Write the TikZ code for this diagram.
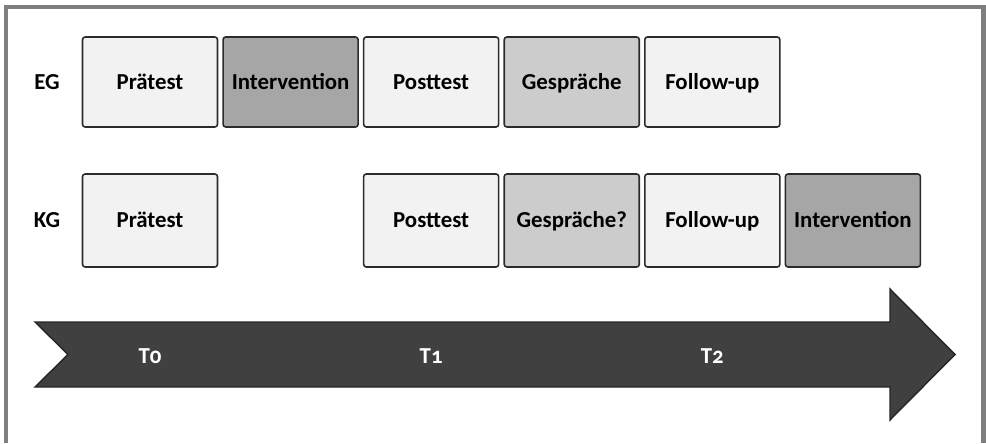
\documentclass[tikz,border=0pt]{standalone}
\usepackage{fontspec}
\setmainfont{Carlito}
\newfontfamily\timeFont[Numbers=OldStyle]{Carlito}
\usepackage{xcolor}
\definecolor{studyFrame}{HTML}{7F7F7F}
\definecolor{studyLine}{HTML}{2B2B2B}
\definecolor{studyLight}{HTML}{F2F2F2}
\definecolor{studyMid}{HTML}{CCCCCC}
\definecolor{studyDark}{HTML}{A6A6A6}
\definecolor{studyArrow}{HTML}{404040}
\usepackage{tikz}
\usetikzlibrary{positioning}

\begin{document}
\begin{tikzpicture}[font=\fontsize{13}{15}\selectfont\bfseries,
  stageBox/.style={draw=studyLine,fill=studyLight,line width=0.9pt,rounded corners=1.5pt,
    minimum width=2.7cm,minimum height=1.8cm,inner sep=0pt,text height=8.4pt,text depth=0pt},
  stageMid/.style={stageBox,fill=studyMid},
  stageDark/.style={stageBox,fill=studyDark},
  timeLabel/.style={white,font=\fontsize{13}{15}\selectfont\bfseries\timeFont},
  node distance=0.08cm]
  \path[use as bounding box] (0,0) rectangle (19.72,8.86);

  % outer frame, open at the bottom
  \draw[studyFrame,line width=2.3pt] (0.12,0) -- (0.12,8.72) -- (19.67,8.72) -- (19.67,0);

  % experimental group
  \node (egLabel) at (0.94,7.22) {EG};
  \node[stageBox] (egPre) at (3.00,7.22) {Prätest};
  \node[stageDark,right=of egPre] (egInt) {Intervention};
  \node[stageBox,right=of egInt] (egPost) {Posttest};
  \node[stageMid,right=of egPost] (egTalk) {Gespräche};
  \node[stageBox,right=of egTalk] (egFollow) {Follow-up};

  % control group
  \node (kgLabel) at (0.94,4.45) {KG};
  \node[stageBox,minimum height=1.86cm] (kgPre) at (3.00,4.45) {Prätest};
  \node[stageBox,minimum height=1.86cm] (kgPost) at (egPost |- kgPre) {Posttest};
  \node[stageMid,minimum height=1.86cm,right=of kgPost] (kgTalk) {Gespräche?};
  \node[stageBox,minimum height=1.86cm,right=of kgTalk] (kgFollow) {Follow-up};
  \node[stageDark,minimum height=1.86cm,right=of kgFollow] (kgInt) {Intervention};

  % time axis
  \fill[studyArrow,draw=black!85,line width=0.8pt,line join=miter]
    (0.70,2.42) -- (17.80,2.42) -- (17.80,3.08) -- (19.10,1.77) -- (17.80,0.46)
    -- (17.80,1.12) -- (0.70,1.12) -- (1.36,1.77) -- cycle;
  \coordinate (axisMid) at (0,1.73);
  \node[timeLabel] (t0) at (kgPre |- axisMid) {T0};
  \node[timeLabel] (t1) at (kgPost |- axisMid) {T1};
  \node[timeLabel] (t2) at (kgFollow |- axisMid) {T2};
\end{tikzpicture}
\end{document}
